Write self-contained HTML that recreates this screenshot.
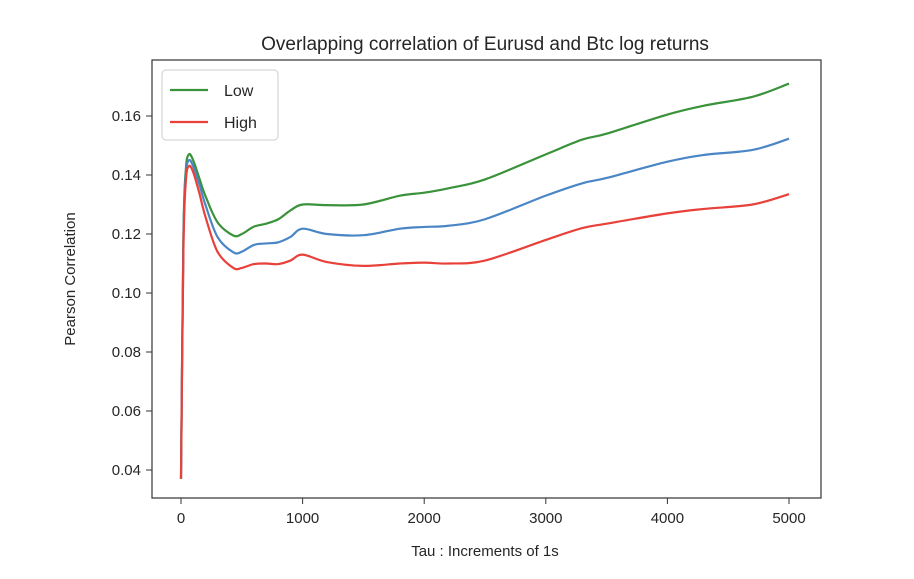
<!DOCTYPE html>
<html><head><meta charset="utf-8"><style>
body{margin:0;background:#fff;}
text{font-family:"Liberation Sans","DejaVu Sans",sans-serif;fill:#262626;}
</style></head><body>
<svg id="chart" width="914" height="574">
<rect x="0" y="0" width="914" height="574" fill="#fff"/>
<text x="485" y="50" font-size="19" text-anchor="middle">Overlapping correlation of Eurusd and Btc  log returns</text>
<g id="plot"></g>
<rect x="152" y="60" width="669" height="438" fill="none" stroke="#333" stroke-width="1.2"/>
<text x="485" y="556" font-size="15" text-anchor="middle">Tau : Increments of 1s</text>
<text transform="translate(75,279) rotate(-90)" font-size="15" text-anchor="middle">Pearson Correlation</text>
<g>
<rect x="162" y="70" width="116" height="70" rx="4" fill="#fff" stroke="#ccc"/>
<line x1="170" y1="90" x2="208" y2="90" stroke="#3a923a" stroke-width="2.2"/>
<text x="224" y="96" font-size="16">Low</text>
<line x1="170" y1="122" x2="208" y2="122" stroke="#e8413a" stroke-width="2.2"/>
<text x="224" y="128" font-size="16">High</text>
</g>
</svg>
<script>
const tau=[0,20,40,65,100,150,200,300,430,500,600,700,800,900,1000,1200,1500,1800,2000,2200,2500,3000,3300,3500,4000,4300,4700,5000];
const lowSeries=[0.037,0.12,0.142,0.147,0.145,0.139,0.133,0.124,0.1195,0.120,0.1225,0.1235,0.125,0.128,0.130,0.1298,0.130,0.133,0.134,0.1355,0.1385,0.147,0.152,0.154,0.1605,0.1635,0.1665,0.171];
const midSeries=[0.037,0.118,0.140,0.145,0.143,0.137,0.130,0.119,0.1138,0.114,0.1163,0.1168,0.1172,0.119,0.1218,0.120,0.1196,0.1218,0.1224,0.1228,0.125,0.133,0.1372,0.139,0.1445,0.1468,0.1485,0.1523];
const highSeries=[0.037,0.115,0.138,0.143,0.141,0.134,0.126,0.114,0.1085,0.1085,0.1098,0.110,0.1098,0.111,0.113,0.1105,0.1092,0.110,0.1103,0.110,0.111,0.118,0.122,0.1235,0.127,0.1285,0.130,0.1335];
const xTicks=[0,1000,2000,3000,4000,5000];
const yTicks=[0.04,0.06,0.08,0.10,0.12,0.14,0.16];
const NS="http://www.w3.org/2000/svg";
const g=document.getElementById('plot');
function xs(v){return 181+v*0.1216;}
function ys(v){return 470-(v-0.04)/0.02*59;}
xTicks.forEach(t=>{
 const l=document.createElementNS(NS,'line');
 l.setAttribute('x1',xs(t));l.setAttribute('x2',xs(t));l.setAttribute('y1',498);l.setAttribute('y2',504);l.setAttribute('stroke','#333');
 
 
 g.appendChild(l);
 const tx=document.createElementNS(NS,'text');
 tx.setAttribute('x',xs(t));tx.setAttribute('y',523);tx.setAttribute('font-size','15');tx.setAttribute('text-anchor','middle');
 tx.textContent=t;
 
 
 g.appendChild(tx);
});
yTicks.forEach(t=>{
 const l=document.createElementNS(NS,'line');
 l.setAttribute('x1',146);l.setAttribute('x2',152);l.setAttribute('y1',ys(t));l.setAttribute('y2',ys(t));l.setAttribute('stroke','#333');
 
 
 g.appendChild(l);
 const tx=document.createElementNS(NS,'text');
 tx.setAttribute('x',141);tx.setAttribute('y',ys(t)+5);tx.setAttribute('font-size','15');tx.setAttribute('text-anchor','end');
 tx.textContent=t.toFixed(2);
 
 
 g.appendChild(tx);
});
function path(vals){
 const p=tau.map((t,i)=>[xs(t),ys(vals[i])]);
 let d='M'+p[0][0]+','+p[0][1];
 for(let i=0;i<p.length-1;i++){
  const p0=p[Math.max(0,i-1)],p1=p[i],p2=p[i+1],p3=p[Math.min(p.length-1,i+2)];
  const c1=[p1[0]+(p2[0]-p0[0])/6,p1[1]+(p2[1]-p0[1])/6];
  const c2=[p2[0]-(p3[0]-p1[0])/6,p2[1]-(p3[1]-p1[1])/6];
  d+=' C'+c1[0]+','+c1[1]+' '+c2[0]+','+c2[1]+' '+p2[0]+','+p2[1];
 }
 return d;
}
[[lowSeries,'#3a923a','line-low'],[midSeries,'#4a86c5','line-mid'],[highSeries,'#e8413a','line-high']].forEach(s=>{
 const pe=document.createElementNS(NS,'path');
 pe.setAttribute('d',path(s[0]));pe.setAttribute('fill','none');pe.setAttribute('stroke',s[1]);pe.setAttribute('stroke-width','2.2');
 
 
 g.appendChild(pe);
});
</script>
</body></html>
